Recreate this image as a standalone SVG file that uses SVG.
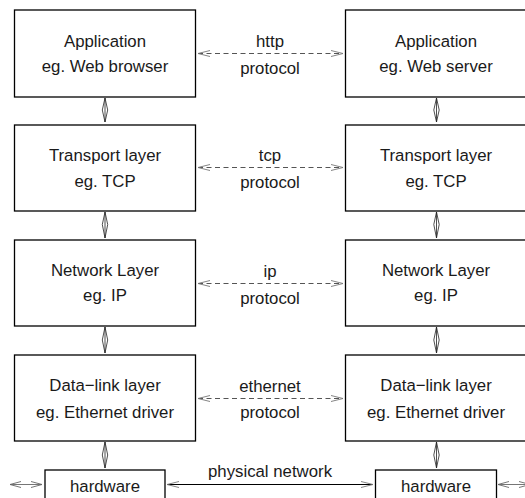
<svg xmlns="http://www.w3.org/2000/svg" width="525" height="498" viewBox="0 0 525 498">
<style>
.box{fill:#fff;stroke:#000;stroke-width:1.3}
.t{font-family:"Liberation Sans",Arial,sans-serif;font-size:16.8px;fill:#1a1a1a;text-anchor:middle}
.dash{fill:none;stroke:#555;stroke-width:1.1;stroke-dasharray:5,3.5}
.solid{fill:none;stroke:#000;stroke-width:1.1}
.head{fill:none;stroke:#666;stroke-width:0.9}
.dia{fill:none;stroke:#222;stroke-width:0.8}
</style>
<defs>
<marker id="oa" markerWidth="14" markerHeight="8" refX="12" refY="4" orient="auto-start-reverse" markerUnits="userSpaceOnUse">
<path d="M0,1 L12,4 L0,7" fill="none" stroke="#777" stroke-width="0.9"/>
</marker>
</defs>
<rect width="525" height="498" fill="#fff"/>

<g id="app-left"><rect class="box" x="14.5" y="10" width="181" height="87"/><text class="t" x="105" y="47">Application</text><text class="t" x="105" y="71.5">eg. Web browser</text></g>
<g id="app-right"><rect class="box" x="345.5" y="10" width="181" height="87"/><text class="t" x="436" y="47">Application</text><text class="t" x="436" y="71.5">eg. Web server</text></g>

<g id="tr-left"><rect class="box" x="14.5" y="125" width="181" height="86"/><text class="t" x="105" y="161">Transport layer</text><text class="t" x="105" y="186.5">eg. TCP</text></g>
<g id="tr-right"><rect class="box" x="345.5" y="125" width="181" height="86"/><text class="t" x="436" y="161">Transport layer</text><text class="t" x="436" y="186.5">eg. TCP</text></g>

<g id="net-left"><rect class="box" x="14.5" y="240" width="181" height="86"/><text class="t" x="105" y="276">Network Layer</text><text class="t" x="105" y="300.5">eg. IP</text></g>
<g id="net-right"><rect class="box" x="345.5" y="240" width="181" height="86"/><text class="t" x="436" y="276">Network Layer</text><text class="t" x="436" y="300.5">eg. IP</text></g>

<g id="dl-left"><rect class="box" x="14.5" y="355" width="181" height="86"/><text class="t" x="105" y="391">Data−link layer</text><text class="t" x="105" y="418">eg. Ethernet driver</text></g>
<g id="dl-right"><rect class="box" x="345.5" y="355" width="181" height="86"/><text class="t" x="436" y="391">Data−link layer</text><text class="t" x="436" y="418">eg. Ethernet driver</text></g>

<g id="hw-left"><rect class="box" x="45" y="470" width="120" height="40"/><text class="t" x="105" y="492">hardware</text></g>
<g id="hw-right"><rect class="box" x="375.5" y="470" width="121" height="40"/><text class="t" x="436" y="492">hardware</text></g>

<g id="connectors">
<line class="dash" x1="198" y1="53.5" x2="343" y2="53.5" marker-start="url(#oa)" marker-end="url(#oa)"/>
<line class="dash" x1="198" y1="167.5" x2="343" y2="167.5" marker-start="url(#oa)" marker-end="url(#oa)"/>
<line class="dash" x1="198" y1="283.5" x2="343" y2="283.5" marker-start="url(#oa)" marker-end="url(#oa)"/>
<line class="dash" x1="198" y1="398.5" x2="343" y2="398.5" marker-start="url(#oa)" marker-end="url(#oa)"/>
<line class="solid" x1="167" y1="484.5" x2="373" y2="484.5" marker-start="url(#oa)" marker-end="url(#oa)"/>
<path class="head" d="M21,481.5 L10,484.5 L21,487.5 M31,481.5 L42,484.5 L31,487.5 M10,484.5 H42"/>
<path class="head" d="M509,481.5 L498,484.5 L509,487.5 M498,484.5 H530 M519,481.5 L530,484.5 L519,487.5"/>
<path class="dia" d="M105,98 L107.7,110 L105,122 L102.3,110 Z M105,98 V122"/>
<path class="dia" d="M105,212 L107.7,224.5 L105,238 L102.3,224.5 Z M105,212 V238"/>
<path class="dia" d="M105,327 L107.7,340 L105,353 L102.3,340 Z M105,327 V353"/>
<path class="dia" d="M105,442 L107.7,455 L105,468 L102.3,455 Z M105,442 V468"/>
<path class="dia" d="M436.5,98 L439.2,110 L436.5,122 L433.8,110 Z M436.5,98 V122"/>
<path class="dia" d="M436.5,212 L439.2,224.5 L436.5,238 L433.8,224.5 Z M436.5,212 V238"/>
<path class="dia" d="M436.5,327 L439.2,340 L436.5,353 L433.8,340 Z M436.5,327 V353"/>
<path class="dia" d="M436.5,442 L439.2,455 L436.5,468 L433.8,455 Z M436.5,442 V468"/>
</g>

<g id="labels">
<text class="t" x="270" y="47">http</text><text class="t" x="270" y="73.5">protocol</text>
<text class="t" x="270" y="161">tcp</text><text class="t" x="270" y="187.5">protocol</text>
<text class="t" x="270" y="277">ip</text><text class="t" x="270" y="303.5">protocol</text>
<text class="t" x="270" y="391.5">ethernet</text><text class="t" x="270" y="418">protocol</text>
<text class="t" x="270" y="476.5">physical network</text>
</g>
</svg>
